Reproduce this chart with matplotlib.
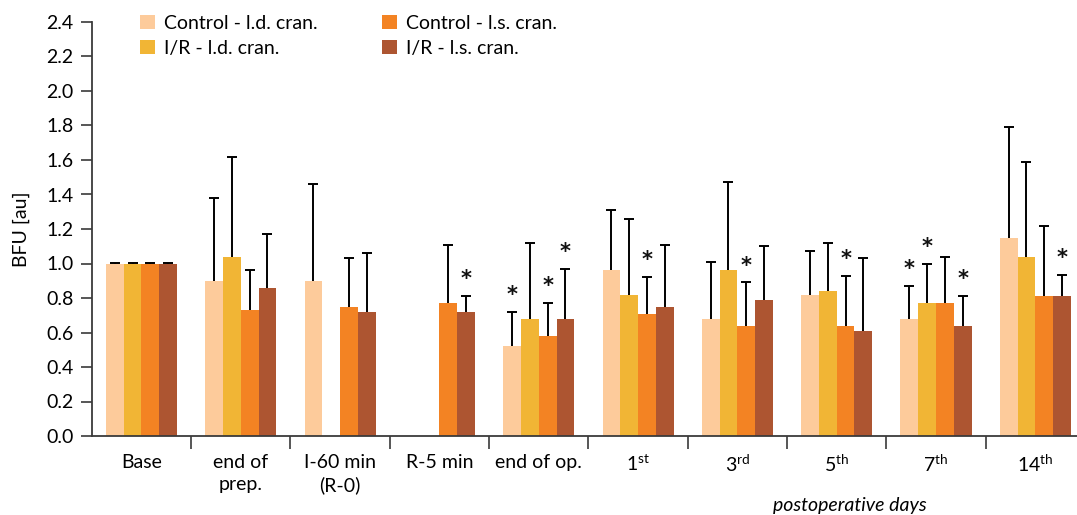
import numpy as np
import matplotlib
matplotlib.use("Agg")
import matplotlib.pyplot as plt
from matplotlib.patches import Patch

plt.rcParams['font.family'] = ['Lato', 'DejaVu Sans']
plt.rcParams['mathtext.fontset'] = 'custom'
plt.rcParams['mathtext.rm'] = 'Lato'
plt.rcParams['mathtext.it'] = 'Lato:italic'

categories = ["Base", "end of\nprep.", "I-60 min\n(R-0)", "R-5 min", "end of op.",
              "1$^{\\mathrm{st}}$", "3$^{\\mathrm{rd}}$", "5$^{\\mathrm{th}}$",
              "7$^{\\mathrm{th}}$", "14$^{\\mathrm{th}}$"]
series_names = ["Control - l.d. cran.", "I/R - l.d. cran.",
                "Control - l.s. cran.", "I/R - l.s. cran."]
colors = ["#FDCB9B", "#F1B535", "#F38323", "#AD5531"]

nan = np.nan
ctrl_ld = [1.00, 0.90, 0.90, nan, 0.52, 0.96, 0.68, 0.82, 0.68, 1.15]
ir_ld = [1.00, 1.04, nan, nan, 0.68, 0.82, 0.96, 0.84, 0.77, 1.04]
ctrl_ls = [1.00, 0.73, 0.75, 0.77, 0.58, 0.71, 0.64, 0.64, 0.77, 0.81]
ir_ls = [1.00, 0.86, 0.72, 0.72, 0.68, 0.75, 0.79, 0.61, 0.64, 0.81]

# upper error (absolute top of error bar)
ctrl_ld_top = [1.005, 1.38, 1.46, nan, 0.72, 1.31, 1.01, 1.07, 0.87, 1.79]
ir_ld_top = [1.005, 1.62, nan, nan, 1.12, 1.26, 1.47, 1.12, 1.00, 1.59]
ctrl_ls_top = [1.005, 0.96, 1.03, 1.11, 0.77, 0.92, 0.89, 0.93, 1.04, 1.22]
ir_ls_top = [1.005, 1.17, 1.06, 0.81, 0.97, 1.11, 1.10, 1.03, 0.81, 0.935]

# significance stars: (category index, series index)
stars = [(3, 3), (4, 0), (4, 2), (4, 3), (5, 2), (6, 2), (7, 2),
         (8, 0), (8, 1), (8, 3), (9, 3)]

values = [ctrl_ld, ir_ld, ctrl_ls, ir_ls]
tops = [ctrl_ld_top, ir_ld_top, ctrl_ls_top, ir_ls_top]

W, H = 1077, 515
fig = plt.figure(figsize=(W / 100, H / 100), dpi=100)
x_left, x_right = 91.8, 1085.0
y_bot, y_top = 436.0, 22.0
ax = fig.add_axes([x_left / W, (H - y_bot) / H, (x_right - x_left) / W, (y_bot - y_top) / H])

n = len(categories)
x = np.arange(n)
bw = 0.179
for k in range(4):
    pos = x + (k - 1.5) * bw
    v = np.array(values[k], dtype=float)
    t = np.array(tops[k], dtype=float)
    ax.bar(pos, v, width=bw, color=colors[k], label=series_names[k], zorder=2)
    m = ~np.isnan(v)
    ax.vlines(pos[m], v[m], t[m], color='black', lw=1.4, zorder=3)
    ax.plot(pos[m], t[m], linestyle='none', marker='_', markersize=7.5,
            mew=1.4, color='black', zorder=3)

for (ci, si) in stars:
    px = ci + (si - 1.5) * bw
    ax.annotate('*', xy=(px, tops[si][ci]), xytext=(0, 5), textcoords='offset points',
                ha='center', va='bottom', fontsize=15, color='#111111',
                family='DejaVu Sans', fontweight='bold')

ax.set_xlim(-0.5, n - 0.5)
ax.set_ylim(0, 2.4)
yt = np.round(np.arange(0, 2.41, 0.2), 1)
ax.set_yticks(yt)
ax.set_yticklabels([f"{v:.1f}" for v in yt], fontsize=14)
ax.set_xticks(x)
ax.set_xticklabels(categories, fontsize=14, linespacing=1.35)
ax.set_xticks(np.arange(0.5, n - 0.5, 1.0), minor=True)
ax.tick_params(axis='x', which='major', length=0, pad=13)
ax.tick_params(axis='x', which='minor', length=9, width=1.2, color='#3a3a3a', direction='out')
ax.tick_params(axis='y', length=8, width=1.2, color='#3a3a3a', pad=5)
for s in ['top', 'right']:
    ax.spines[s].set_visible(False)
for s in ['left', 'bottom']:
    ax.spines[s].set_color('#3a3a3a')
    ax.spines[s].set_linewidth(1.3)

ax.set_ylabel("BFU [au]", fontsize=14)
ax.yaxis.set_label_coords((30 - x_left) / (x_right - x_left), 0.5)

handles = [Patch(facecolor=c, edgecolor='none') for c in colors]
fig.legend(handles, series_names, loc='upper left', bbox_to_anchor=(140 / W, 1 - 15 / H),
           ncol=2, frameon=False, fontsize=14, handlelength=0.75, handleheight=0.75,
           handletextpad=0.5, columnspacing=3.3, labelspacing=0.4, borderpad=0,
           borderaxespad=0)

fig.text(850 / W, 1 - 505 / H, "postoperative days", style='italic', fontsize=14,
         ha='center', va='center')

fig.savefig("out.png", dpi=100)
